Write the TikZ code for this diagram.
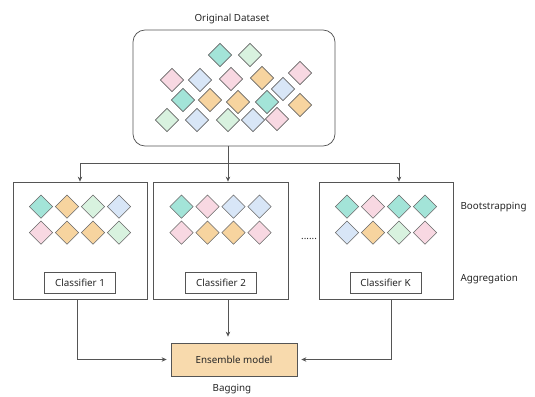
\documentclass[tikz,border=0pt]{standalone}
\usepackage{fontspec}
\setmainfont{Noto Sans}
\usetikzlibrary{arrows.meta,shapes.geometric,calc}
\definecolor{dteal}{HTML}{A3E4D8}
\definecolor{dmint}{HTML}{D8F2DF}
\definecolor{dpink}{HTML}{F8D8E2}
\definecolor{dblue}{HTML}{D8E6F7}
\definecolor{dorange}{HTML}{F7D49F}
\definecolor{edge}{HTML}{555555}
\begin{document}
\begin{tikzpicture}[x=1pt,y=-1pt,>={Stealth[length=5pt,width=4.5pt]},
		font=\fontsize{9.8}{11}\selectfont,text=black!85,
		gem/.style={diamond,draw=edge!90,line width=0.65pt,minimum width=23.5pt,minimum height=23.5pt,inner sep=0pt},
		setbox/.style={draw=edge,line width=0.75pt,minimum width=134pt,minimum height=117pt,inner sep=0pt},
		clsbox/.style={draw=edge,line width=0.75pt,fill=white,minimum width=71pt,minimum height=21pt,inner sep=0pt},
		link/.style={draw=edge,line width=0.75pt}]
		\useasboundingbox (0,0) rectangle (535,396);
		% original dataset
		\node (title) at (232,19) {Original Dataset};
		\node[draw=edge,line width=0.75pt,rounded corners=12pt,minimum width=202pt,minimum height=116pt] (data) at (234,88) {};
		\foreach \x/\y/\c [count=\i] in {220/55/dteal,250/55/dmint,
			172/80/dpink,200/80/dblue,231/79/dpink,262/78/dorange,300/73/dpink,
			183/100/dteal,210/100/dorange,238/102/dorange,267/102/dteal,283/89/dblue,300/105/dorange,
			167/120/dmint,197/120/dblue,228/120/dmint,253/120/dblue,277/119/dpink}
			\node[gem,fill=\c] (g\i) at (\x,\y) {};
		% bootstrap samples
		\node[setbox] (box1) at (80,240.5) {};
		\node[setbox,minimum width=135pt] (box2) at (220.5,240.5) {};
		\node[setbox] (box3) at (386,240.5) {};
		\foreach \b/\ca/\cb/\cc/\cd/\ce/\cf/\cg/\ch in {
			box1/dteal/dorange/dmint/dblue/dpink/dorange/dorange/dmint,
			box2/dteal/dpink/dblue/dblue/dpink/dorange/dorange/dpink,
			box3/dteal/dpink/dteal/dteal/dblue/dorange/dmint/dpink}{
			\node[gem,fill=\ca] (\b-a) at ($(\b.north)+(-39,25)$) {};
			\node[gem,fill=\cb] (\b-b) at ($(\b.north)+(-13,25)$) {};
			\node[gem,fill=\cc] (\b-c) at ($(\b.north)+(13,25)$) {};
			\node[gem,fill=\cd] (\b-d) at ($(\b.north)+(39,25)$) {};
			\node[gem,fill=\ce] (\b-e) at ($(\b.north)+(-39,51)$) {};
			\node[gem,fill=\cf] (\b-f) at ($(\b.north)+(-13,51)$) {};
			\node[gem,fill=\cg] (\b-g) at ($(\b.north)+(13,51)$) {};
			\node[gem,fill=\ch] (\b-h) at ($(\b.north)+(39,51)$) {};
		}
		\node[clsbox] (cls1) at (80,283) {Classifier 1};
		\node[clsbox] (cls2) at (221,283) {Classifier 2};
		\node[clsbox] (clsK) at (385.5,283) {Classifier K};
		\node (dots) at (309,239) {......};
		\node[anchor=west] (boot) at (457,207) {Bootstrapping};
		\node[anchor=west] (aggr) at (457,279) {Aggregation};
		% ensemble
		\node[draw=edge,line width=0.75pt,fill=dorange!85,minimum width=126pt,minimum height=33pt] (ens) at (234,359.5) {Ensemble model};
		\node (bag) at (232,389) {Bagging};
		% connectors
		\coordinate (hub) at (228,163);
		\coordinate (in3) at (399,163);
		\coordinate (out3) at (391,299);
		\coordinate (out1) at (77,299);
		\draw[link] (data.south -| hub) -- (hub);
		\draw[link,->] (hub) -| (box1.north);
		\draw[link,->] (hub) -- (box2.north -| hub);
		\draw[link,->] (hub) -- (in3) -- (box3.north -| in3);
		\draw[link,->,shorten >=4pt] (out1) |- (ens.west);
		\draw[link,->,shorten >=6pt] (box2.south -| hub) -- (ens.north -| hub);
		\draw[link,->,shorten >=4pt] (out3) |- (ens.east);
	\end{tikzpicture}
\end{document}
